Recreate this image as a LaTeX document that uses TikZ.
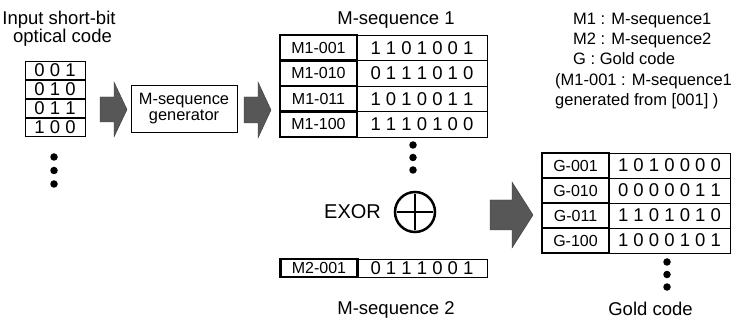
\documentclass[tikz,border=0pt]{standalone}
\usepackage{fontspec}
\setmainfont{Liberation Sans}
\begin{document}
\begin{tikzpicture}[x=1pt,y=-1pt,
  txt/.style={inner sep=0pt, anchor=base, font=\fontsize{18.5}{22}\selectfont},
  leg/.style={inner sep=0pt, anchor=base west, font=\fontsize{16.5}{20}\selectfont},
  inbox/.style={draw, line width=0.9pt, minimum width=60pt, minimum height=18pt, inner sep=0pt, font=\fontsize{18.5}{20}\selectfont},
  labcell/.style={draw, line width=2.8pt, minimum width=77pt, minimum height=25.5pt, inner sep=0pt, font=\fontsize{16}{18}\selectfont},
  bitcell/.style={draw, line width=0.9pt, minimum width=130pt, minimum height=25.5pt, inner sep=0pt, font=\fontsize{18.5}{20}\selectfont},
  blockarrow/.style={fill=black!66, draw=black!78, line width=0.4pt},
  dotmark/.style={circle, fill=black, inner sep=0pt, minimum size=7.5pt}]
\fill[white] (0,0) rectangle (733,320);
\useasboundingbox (0,0) rectangle (733,320);

% input code
\node[txt] (t1) at (59,25) {Input short-bit};
\node[txt] (t2) at (62.5,43) {optical code};
\node[inbox] (i1) at (55,70) {0 0 1};
\node[inbox] (i2) at (55,89) {0 1 0};
\node[inbox] (i3) at (55,108) {0 1 1};
\node[inbox] (i4) at (55,127) {1 0 0};
\node[dotmark] (id1) at (54,157) {};
\node[dotmark] (id2) at (54,170.5) {};
\node[dotmark] (id3) at (54,184) {};

% arrow 1
\draw[blockarrow] (100,97) -- (114,97) -- (114,82) -- (127,109.5) -- (114,137) -- (114,122) -- (100,122) -- cycle;

% generator
\node[draw, line width=0.9pt, minimum width=106pt, minimum height=47pt, inner sep=0pt, align=center,
      font=\fontsize{16.4}{16.5}\selectfont] (gen) at (184,108.5) {M-sequence\\generator};

% arrow 2
\draw[blockarrow] (244,97) -- (258,97) -- (258,82) -- (271,110) -- (258,138) -- (258,123) -- (244,123) -- cycle;

% M-sequence 1
\node[txt] (ms1) at (396,25) {M-sequence 1};
\node[bitcell] (b1) at (422,47.75) {1 1 0 1 0 0 1};
\node[bitcell] (b2) at (422,73.25) {0 1 1 1 0 1 0};
\node[bitcell] (b3) at (422,98.75) {1 0 1 0 0 1 1};
\node[bitcell] (b4) at (422,124.25) {1 1 1 0 1 0 0};
\node[labcell] (l1) at (318.5,47.75) {M1-001};
\node[labcell] (l2) at (318.5,73.25) {M1-010};
\node[labcell] (l3) at (318.5,98.75) {M1-011};
\node[labcell] (l4) at (318.5,124.25) {M1-100};
\node[dotmark] (md1) at (413,145) {};
\node[dotmark] (md2) at (413,157.5) {};
\node[dotmark] (md3) at (413,170) {};

% EXOR
\node[inner sep=0pt, anchor=base, font=\fontsize{20}{22}\selectfont] (ex) at (352.5,219) {EXOR};
\node[draw, circle, line width=2.5pt, minimum size=40pt, inner sep=0pt] (xor) at (415,212) {};
\draw[line width=2.8pt] ([xshift=3pt]xor.west) -- ([xshift=-3pt]xor.east);
\draw[line width=2.8pt] ([yshift=-3pt]xor.north) -- ([yshift=3pt]xor.south);

% M-sequence 2
\node[bitcell, minimum height=18pt] (c1) at (422,268) {0 1 1 1 0 0 1};
\node[labcell, minimum height=18pt] (k1) at (319,268) {M2-001};
\node[txt] (ms2) at (396,314) {M-sequence 2};

% arrow 3
\draw[blockarrow] (490,200) -- (512,200) -- (512,182) -- (533,215) -- (512,248) -- (512,230) -- (490,230) -- cycle;

% Gold code
\node[bitcell, minimum width=121pt, minimum height=25pt] (g1) at (669.5,165.5) {1 0 1 0 0 0 0};
\node[bitcell, minimum width=121pt, minimum height=25pt] (g2) at (669.5,190.5) {0 0 0 0 0 1 1};
\node[bitcell, minimum width=121pt, minimum height=25pt] (g3) at (669.5,215.5) {1 1 0 1 0 1 0};
\node[bitcell, minimum width=121pt, minimum height=25pt] (g4) at (669.5,240.5) {1 0 0 0 1 0 1};
\node[labcell, minimum width=67pt, minimum height=25pt] (gl1) at (575.5,165.5) {G-001};
\node[labcell, minimum width=67pt, minimum height=25pt] (gl2) at (575.5,190.5) {G-010};
\node[labcell, minimum width=67pt, minimum height=25pt] (gl3) at (575.5,215.5) {G-011};
\node[labcell, minimum width=67pt, minimum height=25pt] (gl4) at (575.5,240.5) {G-100};
\node[dotmark] (gd1) at (667,262) {};
\node[dotmark] (gd2) at (667,274.5) {};
\node[dotmark] (gd3) at (667,287) {};
\node[txt] (gc) at (650.5,315) {Gold code};

% legend
\node[leg] (lg1) at (573,25) {M1 : M-sequence1};
\node[leg] (lg2) at (573,45) {M2 : M-sequence2};
\node[leg] (lg3) at (573,64.5) {G : Gold code};
\node[leg] (lg4) at (555,86) {(M1-001 : M-sequence1};
\node[leg] (lg5) at (555,106) {generated from [001] )};
\end{tikzpicture}
\end{document}
